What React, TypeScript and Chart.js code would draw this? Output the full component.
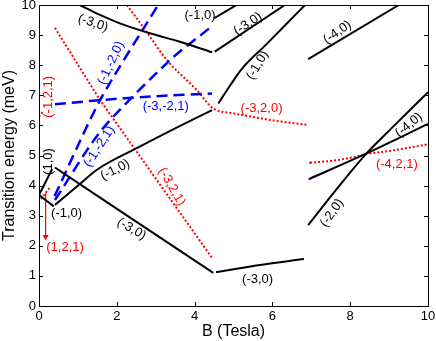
import React, { useEffect, useRef } from "react";
import { Chart, registerables } from "chart.js";

Chart.register(...registerables);

// Axis ranges / ticks
const xMin = 0, xMax = 10, xStep = 2;
const yMin = 0, yMax = 10, yStep = 1;
const xTitle = "B (Tesla)";
const yTitle = "Transition energy (meV)";

type P = [number, number];

// Black solid curves
const bk_1_0: P[] = [[0, 3.69], [0.34, 4.55]];
const bk_m1_0_low: P[] = [[0, 3.69], [0.38, 3.31]];
const bk_m3_0_desc: P[] = [[0.41, 4.6], [4.48, 1.1]];
const bk_m1_0_mid: P[] = [[0.41, 3.36], [1.05, 4.05], [1.48, 4.52], [2.6, 5.3], [3.5, 5.9], [4.45, 6.51]];
const bk_m3_0_top: P[] = [[1.05, 10], [1.57, 9.67], [2.08, 9.39], [2.85, 9.06], [3.62, 8.78], [4.45, 8.43]];
const bk_m1_0_top: P[] = [[4.5, 9.56], [5.08, 10]];
const bk_m3_0_upper: P[] = [[4.52, 8.45], [6.32, 10]];
const bk_m1_0_big: P[] = [[4.61, 6.73], [4.9, 7.3], [5.21, 7.87], [5.85, 8.7], [6.71, 9.83], [6.84, 10]];
const bk_m4_0_upper: P[] = [[6.92, 8.2], [9.25, 10]];
const bk_m3_0_low: P[] = [[4.55, 1.12], [5.68, 1.36], [6.81, 1.56]];
const bk_m2_0: P[] = [[6.92, 2.69], [7.6, 3.8], [8.42, 5.07], [9.02, 5.85], [10, 7.1]];
const bk_m4_0_lower: P[] = [[6.95, 4.22], [8.42, 5.07], [10, 6.05]];

// Blue dashed curves
const bl_m1_m2_0: P[] = [[0.4, 3.65], [1.57, 6.84], [3.06, 10]];
const bl_m1_m2_1: P[] = [[0.41, 3.52], [1.61, 5.85], [3.37, 8.17], [4.45, 9.3]];
const bl_m3_m2_1: P[] = [[0.41, 6.7], [1.57, 6.84], [3.0, 6.97], [4.45, 7.06]];

// Red dotted curves
const rd_m3_2_1: P[] = [[0.41, 9.24], [1.57, 6.84], [4.47, 1.56]];
const rd_m3_2_0: P[] = [[2.26, 10], [2.77, 9.1], [3.28, 8.18], [4.05, 7.18], [4.47, 6.57], [5.0, 6.4], [5.5, 6.28], [6.0, 6.17], [6.88, 6.02]];
const rd_m4_2_1: P[] = [[6.97, 4.76], [7.5, 4.82], [8.0, 4.92], [8.42, 5.05], [9.0, 5.15], [10, 5.37]];
const rd_m1_2_1: P[] = [[0, 6.28], [0.12, 6.5]];
const rd_1_2_1: P[] = [[0.05, 3.55], [0.3, 3.97]];
const rd_arrow: P[] = [[0.17, 3.75], [0.17, 2.3]];

// Magenta start markers
const mg_points: P[] = [[6.97, 4.76], [6.95, 4.22]];

// Text annotations (data coordinates)
const annLabels: { t: string; x: number; y: number; r: number; c: string }[] = [
  { t: "(-3,0)", x: 1.39, y: 9.4, r: 18, c: "black" },
  { t: "(-1,0)", x: 4.14, y: 9.67, r: 0, c: "black" },
  { t: "(-3,0)", x: 5.37, y: 9.37, r: -34, c: "black" },
  { t: "(-1,0)", x: 5.62, y: 8.0, r: -60, c: "black" },
  { t: "(-4,0)", x: 7.67, y: 9.09, r: -35, c: "black" },
  { t: "(-3,-2,1)", x: 3.26, y: 6.64, r: 0, c: "blue" },
  { t: "(-1,-2,0)", x: 1.85, y: 8.07, r: -65, c: "blue" },
  { t: "(-1,-2,1)", x: 1.55, y: 5.3, r: -57, c: "blue" },
  { t: "(-3,2,0)", x: 5.72, y: 6.57, r: 0, c: "red" },
  { t: "(-1,2,1)", x: 0.23, y: 6.95, r: -90, c: "red" },
  { t: "(1,0)", x: 0.23, y: 4.8, r: -90, c: "black" },
  { t: "(-1,0)", x: 0.71, y: 3.06, r: 0, c: "black" },
  { t: "(1,2,1)", x: 0.67, y: 1.96, r: 0, c: "red" },
  { t: "(-1,0)", x: 1.96, y: 4.52, r: -27, c: "black" },
  { t: "(-3,0)", x: 2.38, y: 2.56, r: 30, c: "black" },
  { t: "(-3,2,1)", x: 3.41, y: 3.96, r: 60, c: "red" },
  { t: "(-3,0)", x: 5.62, y: 0.89, r: 0, c: "black" },
  { t: "(-2,0)", x: 7.53, y: 3.09, r: -55, c: "black" },
  { t: "(-4,0)", x: 9.51, y: 6.01, r: -40, c: "black" },
  { t: "(-4,2,1)", x: 9.2, y: 4.72, r: 0, c: "red" },
];

const FONT = "'Liberation Sans', Arial, sans-serif";

function solid(pts: P[]) {
  return {
    data: pts.map(([x, y]) => ({ x, y })),
    borderColor: "#000000",
    borderWidth: 2,
    pointRadius: 0,
    showLine: true,
    cubicInterpolationMode: "monotone" as const,
  };
}
function dashed(pts: P[]) {
  return {
    data: pts.map(([x, y]) => ({ x, y })),
    borderColor: "#0000ff",
    borderWidth: 2.5,
    borderDash: [11, 6],
    pointRadius: 0,
    showLine: true,
    tension: 0.25,
  };
}
function dotted(pts: P[]) {
  return {
    data: pts.map(([x, y]) => ({ x, y })),
    borderColor: "#ff0000",
    borderWidth: 2,
    borderDash: [2, 2],
    pointRadius: 0,
    showLine: true,
    cubicInterpolationMode: "monotone" as const,
  };
}

const labelPlugin = {
  id: "annLabels",
  afterDatasetsDraw(chart: any) {
    const { ctx, scales } = chart;
    ctx.save();
    ctx.font = `13px ${FONT}`;
    ctx.textAlign = "center";
    ctx.textBaseline = "middle";
    for (const l of annLabels) {
      const px = scales.x.getPixelForValue(l.x);
      const py = scales.y.getPixelForValue(l.y);
      ctx.save();
      ctx.translate(px, py);
      ctx.rotate((l.r * Math.PI) / 180);
      ctx.fillStyle = l.c;
      ctx.fillText(l.t, 0, 0);
      ctx.restore();
    }
    ctx.restore();
  },
};

const boxPlugin = {
  id: "boxTicks",
  afterDraw(chart: any) {
    const { ctx, chartArea: a, scales } = chart;
    ctx.save();
    ctx.strokeStyle = "#000";
    ctx.lineWidth = 1;
    ctx.strokeRect(Math.round(a.left) + 0.5, Math.round(a.top) + 0.5, Math.round(a.right - a.left), Math.round(a.bottom - a.top));
    const L = 4;
    ctx.beginPath();
    for (let v = xMin + xStep; v < xMax; v += xStep) {
      const px = Math.round(scales.x.getPixelForValue(v)) + 0.5;
      ctx.moveTo(px, a.bottom);
      ctx.lineTo(px, a.bottom - L);
      ctx.moveTo(px, a.top);
      ctx.lineTo(px, a.top + L);
    }
    for (let v = yMin + yStep; v < yMax; v += yStep) {
      const py = Math.round(scales.y.getPixelForValue(v)) + 0.5;
      ctx.moveTo(a.left, py);
      ctx.lineTo(a.left + L, py);
      ctx.moveTo(a.right, py);
      ctx.lineTo(a.right - L, py);
    }
    ctx.stroke();
    ctx.restore();
  },
};

export default function App() {
  const ref = useRef<HTMLCanvasElement | null>(null);
  useEffect(() => {
    if (!ref.current) return;
    const datasets: any[] = [
      solid(bk_1_0), solid(bk_m1_0_low), solid(bk_m3_0_desc), solid(bk_m1_0_mid),
      solid(bk_m3_0_top), solid(bk_m1_0_top), solid(bk_m3_0_upper), solid(bk_m1_0_big),
      solid(bk_m4_0_upper), solid(bk_m3_0_low), solid(bk_m2_0), solid(bk_m4_0_lower),
      dashed(bl_m1_m2_0), dashed(bl_m1_m2_1), dashed(bl_m3_m2_1),
      { ...dotted(rd_m3_2_1), cubicInterpolationMode: "default", tension: 0 },
      dotted(rd_m3_2_0), dotted(rd_m4_2_1), dotted(rd_m1_2_1), dotted(rd_1_2_1),
      {
        data: rd_arrow.map(([x, y]) => ({ x, y })),
        borderColor: "#ff0000",
        backgroundColor: "#ff0000",
        borderWidth: 1.2,
        showLine: true,
        tension: 0,
        pointStyle: "triangle",
        pointRadius: [0, 3.5],
        pointRotation: 180,
        pointBorderWidth: 0,
      },
      {
        data: mg_points.map(([x, y]) => ({ x, y })),
        showLine: false,
        pointStyle: "rect",
        pointRadius: 1.5,
        backgroundColor: "#ff00ff",
        borderColor: "#ff00ff",
        pointBorderWidth: 0,
      },
    ];
    const chart = new Chart(ref.current, {
      type: "scatter",
      data: { datasets },
      options: {
        animation: false,
        responsive: false,
        maintainAspectRatio: false,
        layout: { padding: { left: 0, right: 8, top: 5, bottom: 0 } },
        plugins: { legend: { display: false }, tooltip: { enabled: false } },
        scales: {
          x: {
            type: "linear",
            min: xMin,
            max: xMax,
            grid: { display: false, drawTicks: false },
            border: { display: false },
            ticks: { stepSize: xStep, color: "#000", font: { family: FONT, size: 13 }, padding: 3, maxRotation: 0 },
            title: { display: true, text: xTitle, color: "#000", font: { family: FONT, size: 16 }, padding: { top: 0, bottom: 0 } },
            afterFit(s: any) {
              s.height = 35;
              s.paddingLeft = 0;
              s.paddingRight = 0;
            },
          },
          y: {
            type: "linear",
            min: yMin,
            max: yMax,
            grid: { display: false, drawTicks: false },
            border: { display: false },
            ticks: { stepSize: yStep, color: "#000", font: { family: FONT, size: 13 }, padding: 3 },
            title: { display: true, text: yTitle, color: "#000", font: { family: FONT, size: 16 }, padding: { top: 0, bottom: 0 } },
            afterFit(s: any) {
              s.width = 39;
              s.paddingTop = 0;
              s.paddingBottom = 0;
            },
          },
        },
      },
      plugins: [labelPlugin, boxPlugin],
    } as any);
    return () => chart.destroy();
  }, []);
  return (
    <div style={{ position: "fixed", left: 0, top: 0, width: 436, height: 341, background: "#fff" }}>
      <canvas ref={ref} width={436} height={341} />
    </div>
  );
}
